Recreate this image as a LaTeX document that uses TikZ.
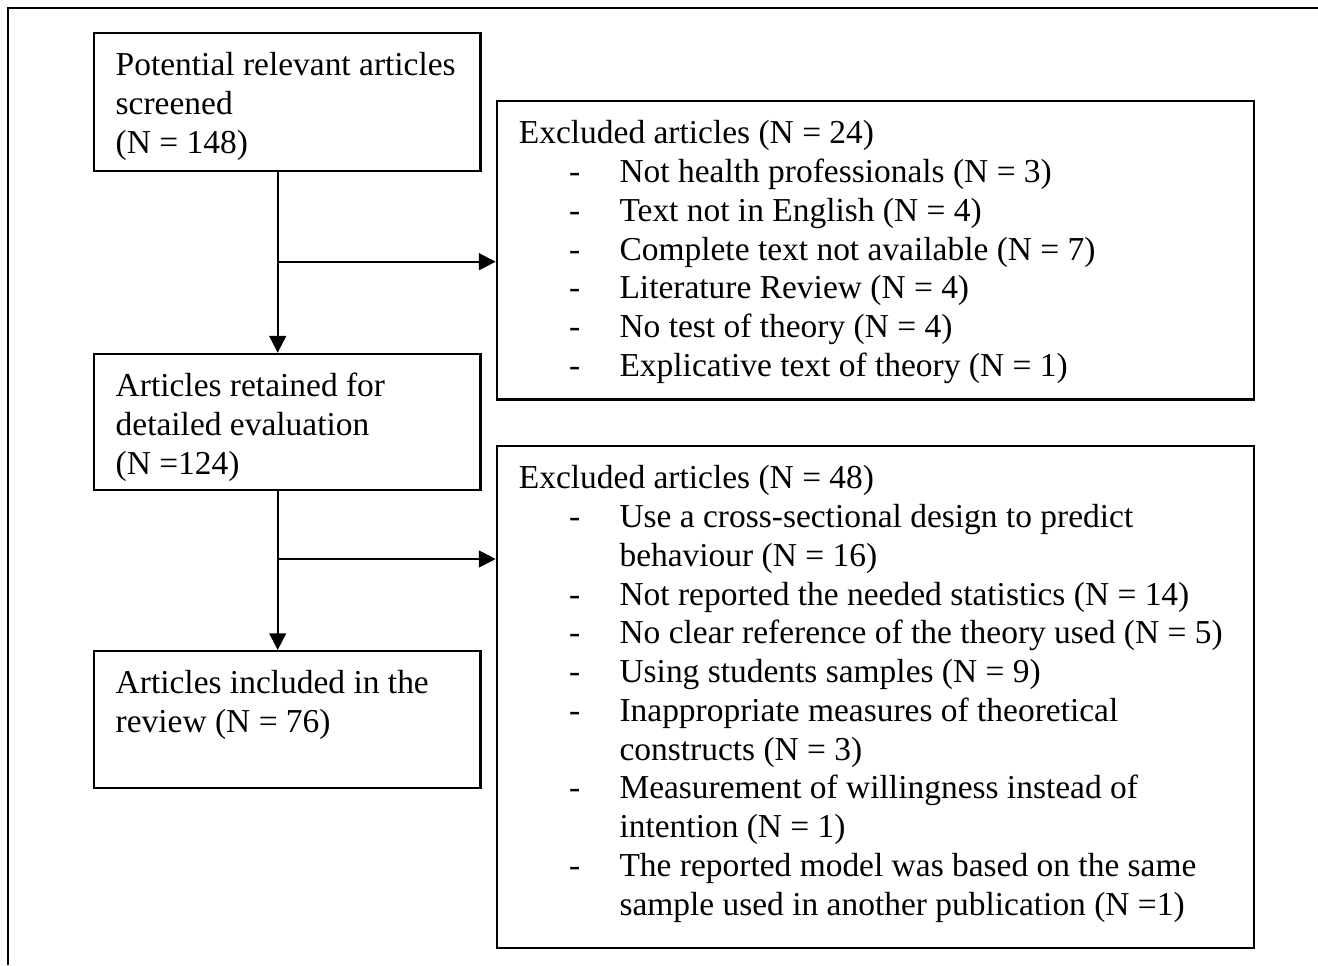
\documentclass[tikz,border=0pt]{standalone}
\usepackage{fontspec}
\setmainfont{Liberation Serif}
\usetikzlibrary{arrows.meta}
% text of a box: width, height, lines
\newcommand{\boxtext}[3]{\parbox[t][#2][t]{#1}{\fontsize{12}{13.9}\selectfont
  \leftskip=7.9pt\rule{0pt}{15.3pt}#3}}
\newcommand{\exitem}{\\\hspace*{18pt}\makebox[18.1pt][l]{-}}
\newcommand{\exwrap}{\\\hspace*{36.1pt}}
\tikzset{
  stage/.style = {shape=rectangle, draw, line width=0.85pt,
                  inner sep=0pt, anchor=north west},
  excl/.style  = {stage},
  flow/.style  = {draw, line width=0.7pt,
                  -{Triangle[length=6pt, width=6pt]}},
  frame/.style = {line width=0.8pt}
}
\begin{document}
\begin{tikzpicture}[x=0.3587pt, y=-0.3587pt]
  \useasboundingbox (0,0) rectangle (1318,965);
  \draw [frame] (8,965) -- (8,8) -- (1318,8);
  % left column
  \node [stage] (screened) at (92.5,32)
    {\boxtext{138.7pt}{49.5pt}{Potential relevant articles\\screened\\(N = 148)}};
  \node [stage] (retained) at (92.5,352.7)
    {\boxtext{138.7pt}{48.9pt}{Articles retained for\\detailed evaluation\\(N =124)}};
  \node [stage] (included) at (92.5,650)
    {\boxtext{138.7pt}{49pt}{Articles included in the\\review (N = 76)}};
  % right column
  \node [excl] (excluded1) at (495.7,100)
    {\boxtext{271.5pt}{107pt}{Excluded articles (N = 24)
      \exitem Not health professionals (N = 3)
      \exitem Text not in English (N = 4)
      \exitem Complete text not available (N = 7)
      \exitem Literature Review (N = 4)
      \exitem No test of theory (N = 4)
      \exitem Explicative text of theory (N = 1)}};
  \node [excl] (excluded2) at (495.7,445)
    {\boxtext{271.5pt}{180pt}{Excluded articles (N = 48)
      \exitem Use a cross-sectional design to predict
      \exwrap behaviour (N = 16)
      \exitem Not reported the needed statistics (N = 14)
      \exitem No clear reference of the theory used (N = 5)
      \exitem Using students samples (N = 9)
      \exitem Inappropriate measures of theoretical
      \exwrap constructs (N = 3)
      \exitem Measurement of willingness instead of
      \exwrap intention (N = 1)
      \exitem The reported model was based on the same
      \exwrap sample used in another publication (N =1)}};
  % connectors
  \coordinate (split1) at (277.7,261.7);
  \coordinate (split2) at (277.7,559);
  \draw [flow] (split1 |- screened.south) -- (split1 |- retained.north);
  \draw [flow] (split1) -- (split1 -| excluded1.west);
  \draw [flow] (split2 |- retained.south) -- (split2 |- included.north);
  \draw [flow] (split2) -- (split2 -| excluded2.west);
\end{tikzpicture}
\end{document}
